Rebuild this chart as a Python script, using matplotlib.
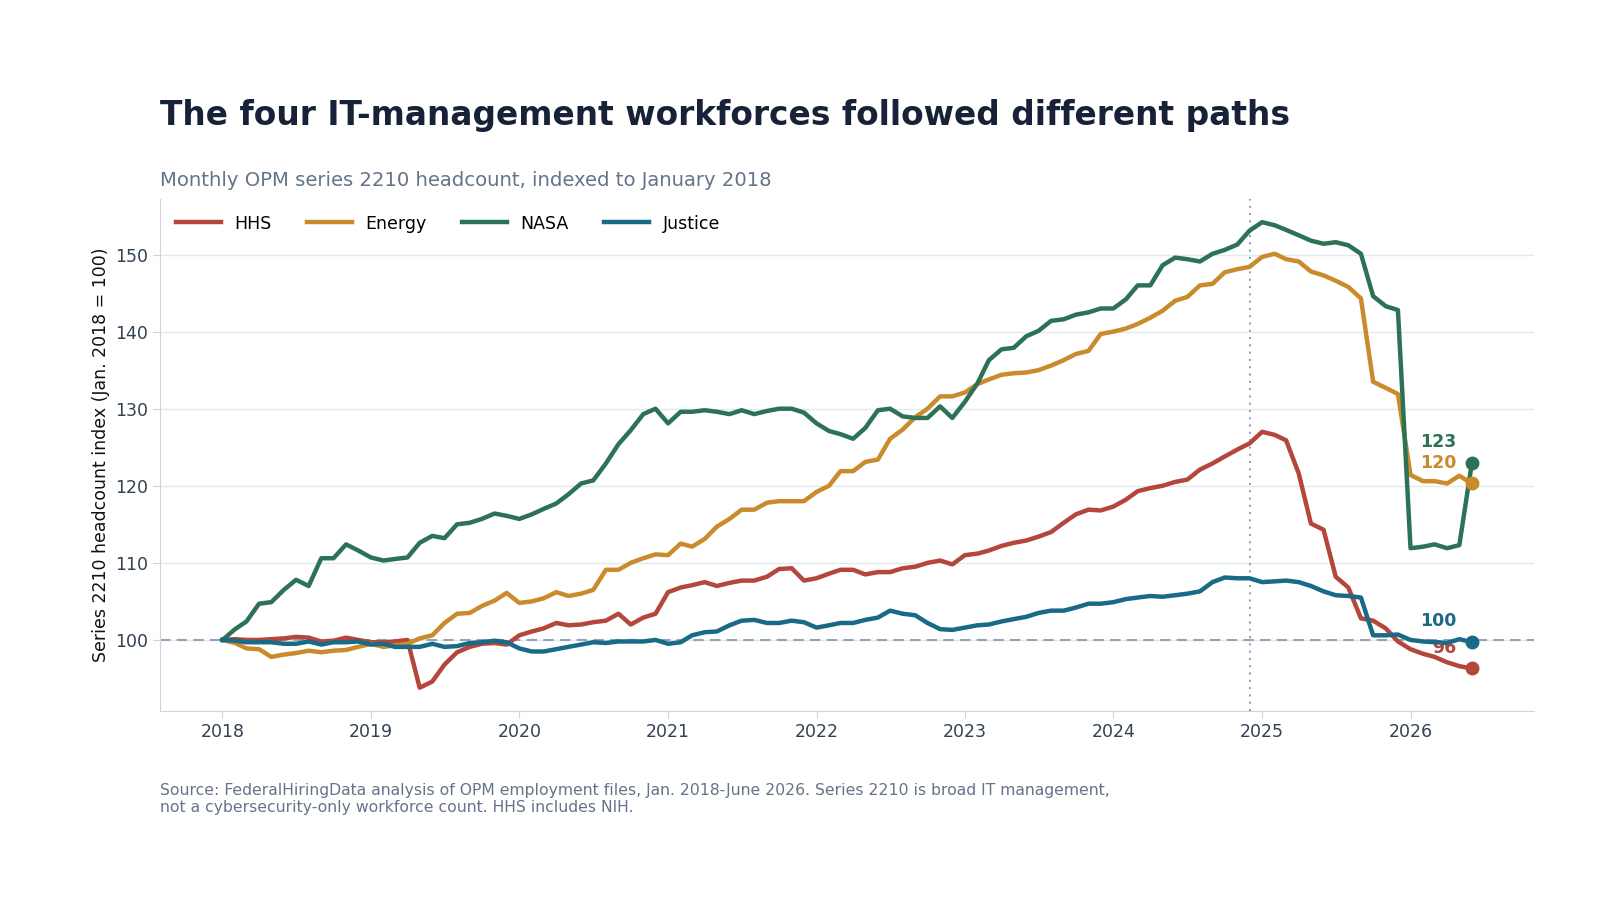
import matplotlib
matplotlib.use('Agg')
import matplotlib.pyplot as plt
import matplotlib.dates as mdates
import numpy as np
import pandas as pd

months = pd.date_range('2018-01-01', '2026-06-01', freq='MS')

hhs = [100.0, 100.1, 100.0, 100.0, 100.1, 100.2, 100.4, 100.3, 99.8, 99.9, 100.3, 100.0,
       99.7, 99.7, 99.8, 100.0, 93.8, 94.6, 96.8, 98.4, 99.1, 99.5, 99.6, 99.4,
       100.6, 101.1, 101.5, 102.2, 101.9, 102.0, 102.3, 102.5, 103.4, 102.0, 102.9, 103.4,
       106.2, 106.8, 107.1, 107.5, 107.0, 107.4, 107.7, 107.7, 108.2, 109.2, 109.3, 107.7,
       108.0, 108.6, 109.1, 109.1, 108.5, 108.8, 108.8, 109.3, 109.5, 110.0, 110.3, 109.8,
       111.0, 111.2, 111.6, 112.2, 112.6, 112.9, 113.4, 114.0, 115.2, 116.3, 116.9, 116.8,
       117.3, 118.2, 119.3, 119.7, 120.0, 120.5, 120.8, 122.1, 122.9, 123.8, 124.7, 125.5,
       127.0, 126.6, 125.9, 121.6, 115.1, 114.3, 108.2, 106.8, 102.8, 102.5, 101.5, 99.8,
       98.8, 98.2, 97.8, 97.1, 96.6, 96.3]

energy = [100.0, 99.6, 98.9, 98.8, 97.8, 98.1, 98.3, 98.6, 98.4, 98.6, 98.7, 99.1,
          99.5, 99.1, 99.3, 99.5, 100.2, 100.6, 102.2, 103.4, 103.5, 104.4, 105.1, 106.1,
          104.8, 105.0, 105.4, 106.2, 105.7, 106.0, 106.5, 109.1, 109.1, 110.0, 110.6, 111.1,
          111.0, 112.5, 112.1, 113.1, 114.7, 115.7, 116.9, 116.9, 117.8, 118.0, 118.0, 118.0,
          119.2, 120.0, 121.9, 121.9, 123.1, 123.4, 126.1, 127.3, 128.9, 130.0, 131.6, 131.6,
          132.1, 133.2, 133.8, 134.4, 134.6, 134.7, 135.0, 135.6, 136.3, 137.1, 137.5, 139.7,
          140.0, 140.4, 141.0, 141.8, 142.7, 144.0, 144.5, 146.0, 146.2, 147.7, 148.1, 148.4,
          149.7, 150.1, 149.4, 149.1, 147.8, 147.3, 146.6, 145.8, 144.3, 133.5, 132.7, 131.9,
          121.4, 120.6, 120.6, 120.3, 121.3, 120.3]

nasa = [100.0, 101.4, 102.4, 104.7, 104.9, 106.5, 107.8, 107.0, 110.6, 110.6, 112.4, 111.6,
        110.7, 110.3, 110.5, 110.7, 112.6, 113.5, 113.2, 115.0, 115.2, 115.7, 116.4, 116.1,
        115.7, 116.3, 117.0, 117.7, 118.9, 120.3, 120.7, 122.9, 125.4, 127.2, 129.3, 130.0,
        128.1, 129.6, 129.6, 129.8, 129.6, 129.3, 129.8, 129.3, 129.7, 130.0, 130.0, 129.5,
        128.1, 127.1, 126.7, 126.1, 127.5, 129.8, 130.0, 129.0, 128.8, 128.8, 130.3, 128.8,
        130.9, 133.3, 136.3, 137.7, 137.9, 139.4, 140.1, 141.4, 141.6, 142.2, 142.5, 143.0,
        143.0, 144.2, 146.0, 146.0, 148.6, 149.6, 149.4, 149.1, 150.1, 150.6, 151.3, 153.1,
        154.2, 153.8, 153.2, 152.5, 151.8, 151.4, 151.6, 151.2, 150.1, 144.6, 143.3, 142.8,
        111.9, 112.1, 112.4, 111.9, 112.3, 123.0]

justice = [100.0, 99.9, 99.7, 99.7, 99.7, 99.5, 99.5, 99.8, 99.4, 99.7, 99.7, 99.8,
           99.4, 99.5, 99.1, 99.1, 99.1, 99.5, 99.1, 99.2, 99.6, 99.7, 99.9, 99.7,
           98.9, 98.5, 98.5, 98.8, 99.1, 99.4, 99.7, 99.6, 99.8, 99.8, 99.8, 100.0,
           99.5, 99.7, 100.6, 101.0, 101.1, 101.9, 102.5, 102.6, 102.2, 102.2, 102.5, 102.3,
           101.6, 101.9, 102.2, 102.2, 102.6, 102.9, 103.8, 103.4, 103.2, 102.2, 101.4, 101.3,
           101.6, 101.9, 102.0, 102.4, 102.7, 103.0, 103.5, 103.8, 103.8, 104.2, 104.7, 104.7,
           104.9, 105.3, 105.5, 105.7, 105.6, 105.8, 106.0, 106.3, 107.5, 108.1, 108.0, 108.0,
           107.5, 107.6, 107.7, 107.5, 107.0, 106.3, 105.8, 105.7, 105.5, 100.6, 100.6, 100.7,
           100.0, 99.8, 99.7, 99.6, 100.1, 99.7]

names = ['HHS', 'Energy', 'NASA', 'Justice']
colors = ['#b5463b', '#c98b2b', '#2c7356', '#196a87']
series = [hhs, energy, nasa, justice]
marker_date = pd.Timestamp('2024-12-01')

plt.rcParams['font.family'] = ['DejaVu Sans']

fig = plt.figure(figsize=(16, 9), dpi=100)
ax = fig.add_axes([0.1, 0.21, 0.859, 0.569])

ax.axhline(100, color='#94a3b8', linestyle=(0, (5, 3)), linewidth=1.5, zorder=1)
ax.axvline(marker_date, color='#94a3b8', linestyle=(0, (1, 2.5)), linewidth=1.5, zorder=1)

for name, col, vals in zip(names, colors, series):
    ax.plot(months, vals, color=col, linewidth=3.2, label=name, zorder=3)
    ax.plot(months[-1], vals[-1], 'o', color=col, markersize=9, zorder=4)
    ax.annotate(f'{vals[-1]:.0f}', (months[-1], vals[-1]), xytext=(-11, 15),
                textcoords='offset points', ha='right', va='center',
                fontsize=12.5, fontweight='bold', color=col)

ax.xaxis.set_major_locator(mdates.YearLocator())
ax.xaxis.set_major_formatter(mdates.DateFormatter('%Y'))
ax.set_yticks([100, 110, 120, 130, 140, 150])
ax.grid(axis='y', color='#e2e8f0', linewidth=1)
ax.set_axisbelow(True)
for s in ['top', 'right']:
    ax.spines[s].set_visible(False)
for s in ['left', 'bottom']:
    ax.spines[s].set_color('#cbd5e1')
ax.tick_params(colors='#cbd5e1', labelcolor='#334155', labelsize=12.5, length=5)
ax.set_ylabel('Series 2210 headcount index (Jan. 2018 = 100)', fontsize=12.5, color='#111111')

ax.legend(loc='upper left', ncol=4, frameon=False, fontsize=12.5, handlelength=2.6,
          columnspacing=2.0, bbox_to_anchor=(0.0, 1.0))

fig.text(0.1, 0.861, 'The four IT-management workforces followed different paths',
         fontsize=23.7, fontweight='bold', color='#172238')
fig.text(0.1, 0.793, 'Monthly OPM series 2210 headcount, indexed to January 2018',
         fontsize=14.1, color='#64748b')
fig.text(0.1, 0.13, 'Source: FederalHiringData analysis of OPM employment files, Jan. 2018-June 2026. '
         'Series 2210 is broad IT management,\nnot a cybersecurity-only workforce count. HHS includes NIH.',
         fontsize=11.25, color='#64748b', va='top', linespacing=1.2)

fig.savefig('out.png', dpi=100)
